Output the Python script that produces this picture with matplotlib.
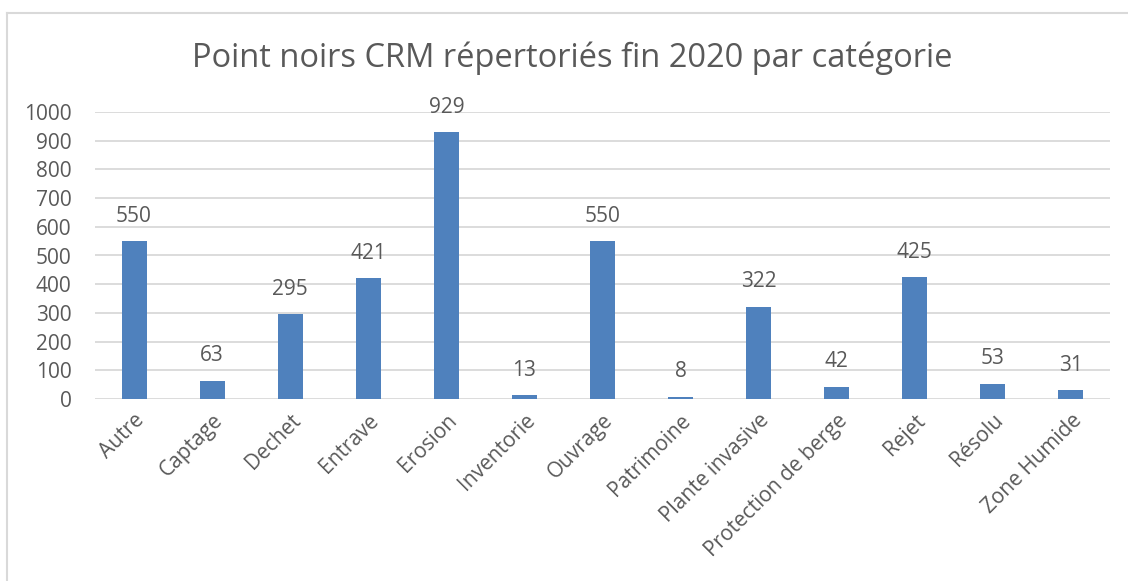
import matplotlib.pyplot as plt
from matplotlib.lines import Line2D

categories = ['Autre', 'Captage', 'Dechet', 'Entrave', 'Erosion', 'Inventorie',
              'Ouvrage', 'Patrimoine', 'Plante invasive', 'Protection de berge',
              'Rejet', 'Résolu', 'Zone Humide']
values = [550, 63, 295, 421, 929, 13, 550, 8, 322, 42, 425, 53, 31]
yticks = list(range(0, 1001, 100))

plt.rcParams['font.family'] = ['Open Sans', 'DejaVu Sans']
grey = '#595959'
W, H = 1128, 581

fig = plt.figure(figsize=(11.28, 5.81), dpi=100)
ax = fig.add_axes([95 / W, 1 - 399 / H, 1015 / W, 287 / H])

x = range(len(categories))
ax.bar(x, values, width=0.32, color='#4F81BD', zorder=3)
for i, v in enumerate(values):
    ax.annotate(str(v), (i, v), xytext=(0, 18), textcoords='offset points',
                ha='center', va='center', fontsize=15, color=grey)

ax.set_xlim(-0.5, len(categories) - 0.5)
ax.set_ylim(0, 1000)
ax.set_yticks(yticks)
ax.set_yticklabels([str(t) for t in yticks], fontsize=15, color=grey)
ax.set_xticks(list(x))
ax.set_xticklabels(categories, rotation=45, ha='right', rotation_mode='anchor',
                   fontsize=15, color=grey)
ax.tick_params(length=0)
ax.tick_params(axis='y', pad=17)
ax.tick_params(axis='x', pad=8)
ax.grid(axis='y', color='#D9D9D9', linewidth=1.3, zorder=0)
for s in ax.spines.values():
    s.set_visible(False)

fig.text(0.5 + 8 / W, 1 - 58 / H, 'Point noirs CRM répertoriés fin 2020 par catégorie',
         ha='center', va='center', fontsize=23.5, color=grey)

# cadre du graphique (haut et gauche seulement)
fig.lines.append(Line2D([6.5 / W, 1], [1 - 13 / H, 1 - 13 / H], transform=fig.transFigure,
                        color='#D9D9D9', linewidth=1.5))
fig.lines.append(Line2D([6.5 / W, 6.5 / W], [0, 1 - 13 / H], transform=fig.transFigure,
                        color='#D9D9D9', linewidth=1.5))

fig.savefig('out.png', dpi=100)
